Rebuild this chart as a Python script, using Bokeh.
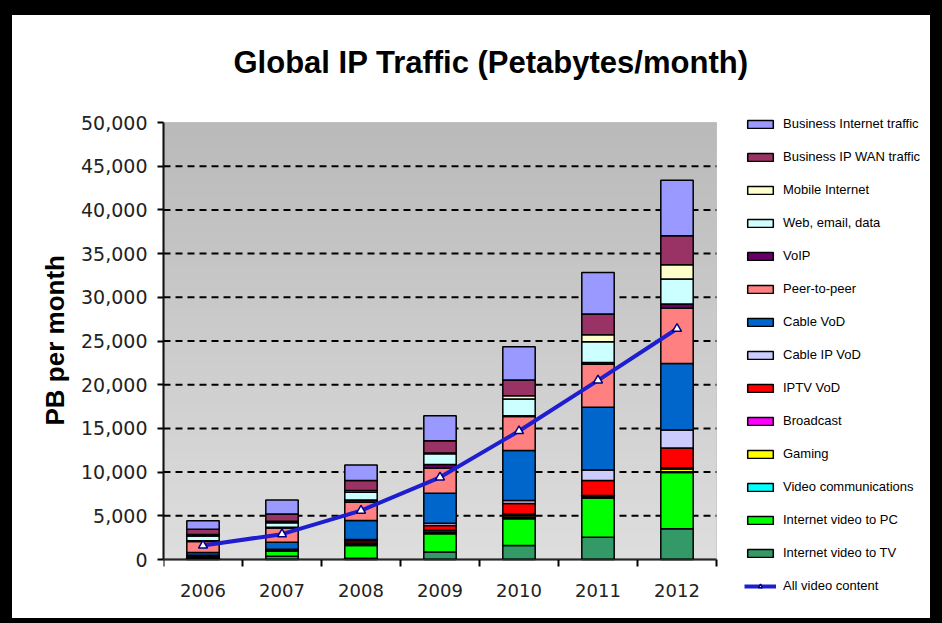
import numpy as np
from bokeh.plotting import figure
from bokeh.models import (Legend, LegendItem, FixedTicker, NumeralTickFormatter, Range1d,
                          BoxAnnotation, Title, Label)
from bokeh.embed import file_html
from bokeh.resources import INLINE

years = ["2006", "2007", "2008", "2009", "2010", "2011", "2012"]

# stacked segments, bottom to top (PB per month)
internet_video_tv = [150, 360, 150, 850, 1600, 2550, 3510]
internet_video_pc = [150, 570, 1450, 2090, 3050, 4500, 6440]
video_comm = [30, 40, 80, 100, 150, 50, 100]
gaming = [30, 40, 100, 100, 200, 80, 300]
broadcast = [30, 50, 110, 200, 220, 130, 150]
iptv_vod = [60, 50, 250, 560, 1180, 1720, 2270]
cable_ip_vod = [50, 50, 150, 250, 340, 1220, 2050]
cable_vod = [300, 820, 2170, 3430, 5720, 7160, 7610]
peer_to_peer = [1250, 1620, 2090, 2900, 3890, 4940, 6330]
voip = [100, 100, 270, 380, 110, 200, 460]
web_email_data = [550, 500, 880, 1230, 1910, 2350, 2860]
mobile_internet = [160, 180, 190, 100, 370, 810, 1630]
business_ip_wan = [590, 840, 1140, 1410, 1800, 2370, 3320]
business_internet = [980, 1600, 1790, 2860, 3800, 4760, 6370]

all_video_content = [1600, 2900, 5600, 9400, 14700, 20500, 26400]

y_ticks = [0, 5000, 10000, 15000, 20000, 25000, 30000, 35000, 40000, 45000, 50000]

title_text = "Global IP Traffic (Petabytes/month)"
y_title = "PB per month"

series = [
    ("Internet video to TV", internet_video_tv, "#339966"),
    ("Internet video to PC", internet_video_pc, "#00FF00"),
    ("Video communications", video_comm, "#00FFFF"),
    ("Gaming", gaming, "#FFFF00"),
    ("Broadcast", broadcast, "#FF00FF"),
    ("IPTV VoD", iptv_vod, "#FF0000"),
    ("Cable IP VoD", cable_ip_vod, "#CCCCFF"),
    ("Cable VoD", cable_vod, "#0066CC"),
    ("Peer-to-peer", peer_to_peer, "#FF8080"),
    ("VoIP", voip, "#660066"),
    ("Web, email, data", web_email_data, "#CCFFFF"),
    ("Mobile Internet", mobile_internet, "#FFFFCC"),
    ("Business IP WAN traffic", business_ip_wan, "#993366"),
    ("Business Internet traffic", business_internet, "#9999FF"),
]

n = len(years)
y_max = y_ticks[-1]
xs = [i + 0.5 for i in range(n)]
data = {"x": xs}
keys = []
for i, (name, vals, col) in enumerate(series):
    k = "s%d" % i
    data[k] = vals
    keys.append(k)

# The frame is widened (right: legend room; top: title; bottom: axis labels / legend tail);
# the chart area itself is 0..n by 0..y_max (437 px tall, 553 px wide).
p = figure(width=942, height=623, title=None,
           x_range=Range1d(0, n * 765 / 553),
           y_range=Range1d(-y_max * 51 / 437, y_max * (1 + 107 / 437)),
           output_backend="svg", toolbar_location=None,
           min_border_left=151, min_border_right=26, min_border_top=0, min_border_bottom=28)
p.styles = {"border-top": "15px solid black", "border-left": "12px solid black",
            "border-right": "12px solid black", "border-bottom": "5px solid black"}

p.background_fill_color = "white"
p.border_fill_color = "white"
p.outline_line_color = None

# chart-area background: vertical grey gradient (darker at top)
rows = 64
g = np.linspace(222, 186, rows).astype(np.uint32)
rgba = (255 << 24) | (g << 16) | (g << 8) | g
bg = np.repeat(rgba[:, None], 2, axis=1)
p.image_rgba(image=[bg], x=0, y=0, dw=n, dh=y_max)

p.add_layout(BoxAnnotation(left=0, right=n, bottom=0, top=y_max, fill_alpha=0,
                           line_color="#808080", line_width=1))

grid_vals = y_ticks[1:-1]
p.segment(x0=[0] * len(grid_vals), x1=[n] * len(grid_vals), y0=grid_vals, y1=grid_vals,
          line_color="black", line_width=2, line_dash="7 5")

renderers = p.vbar_stack(keys, x="x", width=0.41, source=data,
                         color=[s[2] for s in series],
                         line_color="black", line_width=1.5)

line_r = p.line(xs, all_video_content, line_color="#1E1ED0", line_width=4)
mark_r = p.scatter(xs, all_video_content, marker="triangle", size=9,
                   fill_color="white", line_color="#000080", line_width=1.5)

# title, anchored at the chart area's top-left corner
p.add_layout(Label(x=0, y=y_max, x_offset=70, y_offset=60, text=title_text,
                   text_font="Liberation Sans", text_font_size="31px", text_font_style="bold",
                   text_color="black", text_align="left", text_baseline="middle"))

# axes
p.yaxis.ticker = FixedTicker(ticks=y_ticks)
p.yaxis.bounds = (0, y_max)
p.yaxis.formatter = NumeralTickFormatter(format="0,0")
p.yaxis.major_label_text_font = "DejaVu Sans"
p.yaxis.major_label_text_font_size = "19px"
p.yaxis.major_label_text_color = "#222222"
p.yaxis.major_label_standoff = 10
p.yaxis.major_tick_out = 6
p.yaxis.major_tick_in = 0
p.yaxis.minor_tick_line_color = None
p.yaxis.axis_line_width = 2
p.yaxis.major_tick_line_width = 2

ylab = Title(text=y_title, align="left", offset=185, standoff=18,
             text_font="Liberation Sans", text_font_size="26px", text_font_style="bold",
             text_color="black")
p.add_layout(ylab, "left")

p.xaxis.fixed_location = 0
p.xaxis.bounds = (0, n)
p.xaxis.ticker = FixedTicker(ticks=xs, minor_ticks=list(range(n + 1)))
p.xaxis.major_label_overrides = {x: y for x, y in zip(xs, years)}
p.xaxis.major_label_text_font = "DejaVu Sans"
p.xaxis.major_label_text_font_size = "18px"
p.xaxis.major_label_text_color = "#222222"
p.xaxis.major_label_standoff = 17
p.xaxis.major_tick_out = 0
p.xaxis.major_tick_in = 0
p.xaxis.minor_tick_out = 7
p.xaxis.minor_tick_in = 0
p.xaxis.minor_tick_line_width = 2
p.xaxis.minor_tick_line_color = "black"
p.xaxis.axis_line_width = 2

p.xgrid.grid_line_color = None
p.ygrid.grid_line_color = None

items = []
for r, (name, vals, col) in reversed(list(zip(renderers, series))):
    items.append(LegendItem(label=name, renderers=[r]))
items.append(LegendItem(label="All video content", renderers=[line_r, mark_r]))

legend = Legend(items=items, location=(581, 17))
legend.padding = 0
legend.margin = 0
legend.spacing = 18
legend.glyph_width = 32
legend.glyph_height = 10
legend.label_height = 13
legend.label_standoff = 7
legend.label_text_font = "Liberation Sans"
legend.label_text_font_size = "13px"
legend.label_text_color = "black"
legend.border_line_color = None
legend.background_fill_alpha = 0
p.add_layout(legend, "center")

open("out.html", "w").write(file_html(p, INLINE))
